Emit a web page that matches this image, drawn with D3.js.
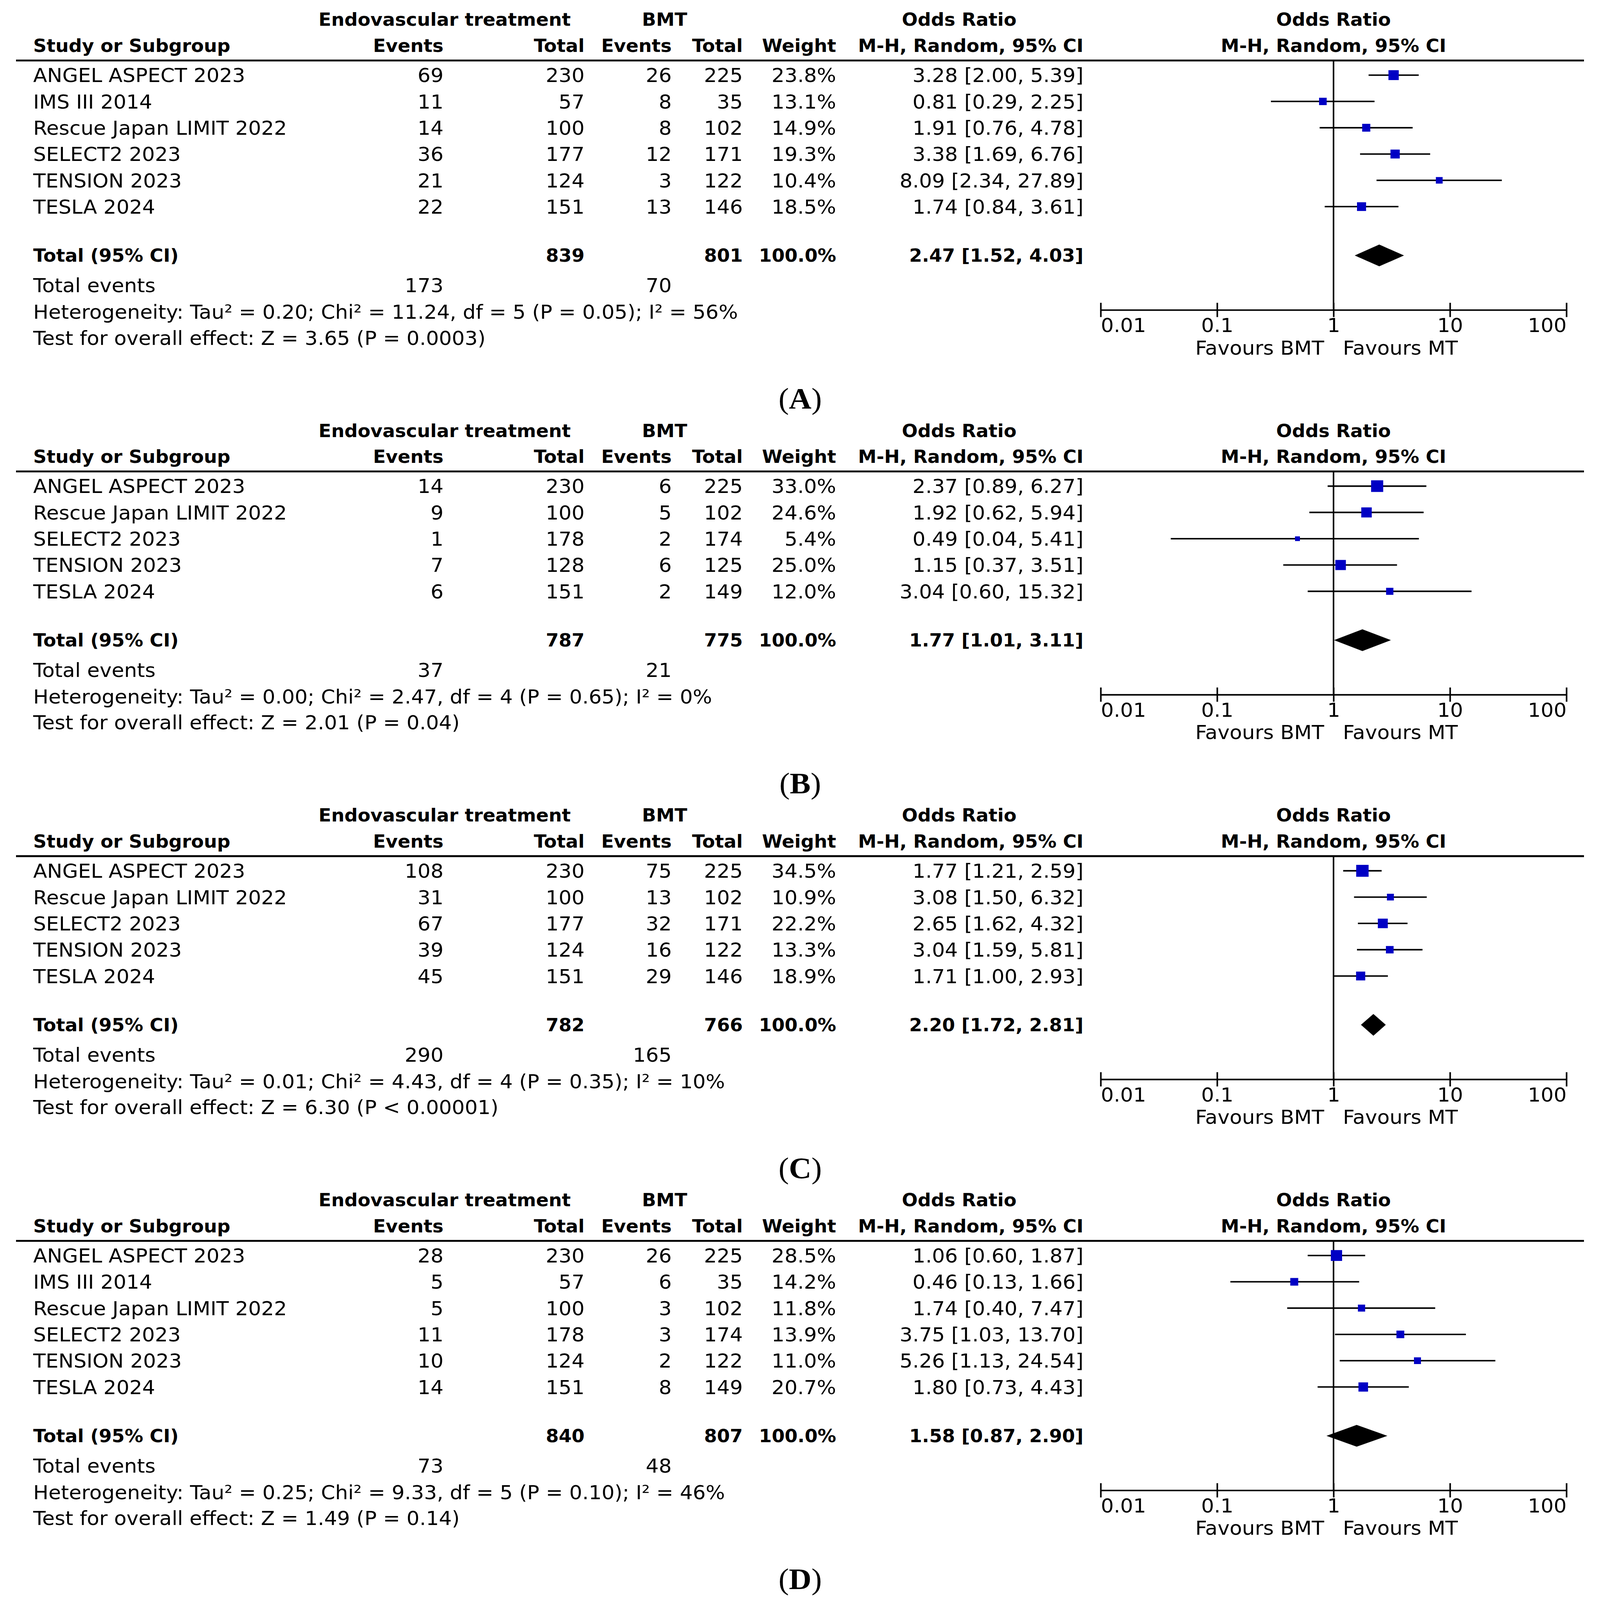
<!DOCTYPE html>
<html>
<head>
<meta charset="utf-8">
<script src="https://cdn.jsdelivr.net/npm/d3@7"></script>
<style>
  html, body { margin: 0; padding: 0; background: #fff; overflow: hidden; }
  svg { display: block; }
  svg text { font-family: "DejaVu Sans", Verdana, sans-serif; fill: #000; }
</style>
</head>
<body>
<script>
// study rows: name, exp events, exp total, ctl events, ctl total, weight %, OR, lower, upper
const rowsA = [
  ["ANGEL ASPECT 2023", 69, 230, 26, 225, 23.8, 3.28, 2.00, 5.39],
  ["IMS III 2014", 11, 57, 8, 35, 13.1, 0.81, 0.29, 2.25],
  ["Rescue Japan LIMIT 2022", 14, 100, 8, 102, 14.9, 1.91, 0.76, 4.78],
  ["SELECT2 2023", 36, 177, 12, 171, 19.3, 3.38, 1.69, 6.76],
  ["TENSION 2023", 21, 124, 3, 122, 10.4, 8.09, 2.34, 27.89],
  ["TESLA 2024", 22, 151, 13, 146, 18.5, 1.74, 0.84, 3.61]
];
const rowsB = [
  ["ANGEL ASPECT 2023", 14, 230, 6, 225, 33.0, 2.37, 0.89, 6.27],
  ["Rescue Japan LIMIT 2022", 9, 100, 5, 102, 24.6, 1.92, 0.62, 5.94],
  ["SELECT2 2023", 1, 178, 2, 174, 5.4, 0.49, 0.04, 5.41],
  ["TENSION 2023", 7, 128, 6, 125, 25.0, 1.15, 0.37, 3.51],
  ["TESLA 2024", 6, 151, 2, 149, 12.0, 3.04, 0.60, 15.32]
];
const rowsC = [
  ["ANGEL ASPECT 2023", 108, 230, 75, 225, 34.5, 1.77, 1.21, 2.59],
  ["Rescue Japan LIMIT 2022", 31, 100, 13, 102, 10.9, 3.08, 1.50, 6.32],
  ["SELECT2 2023", 67, 177, 32, 171, 22.2, 2.65, 1.62, 4.32],
  ["TENSION 2023", 39, 124, 16, 122, 13.3, 3.04, 1.59, 5.81],
  ["TESLA 2024", 45, 151, 29, 146, 18.9, 1.71, 1.00, 2.93]
];
const rowsD = [
  ["ANGEL ASPECT 2023", 28, 230, 26, 225, 28.5, 1.06, 0.60, 1.87],
  ["IMS III 2014", 5, 57, 6, 35, 14.2, 0.46, 0.13, 1.66],
  ["Rescue Japan LIMIT 2022", 5, 100, 3, 102, 11.8, 1.74, 0.40, 7.47],
  ["SELECT2 2023", 11, 178, 3, 174, 13.9, 3.75, 1.03, 13.70],
  ["TENSION 2023", 10, 124, 2, 122, 11.0, 5.26, 1.13, 24.54],
  ["TESLA 2024", 14, 151, 8, 149, 20.7, 1.80, 0.73, 4.43]
];

// pooled: exp total, ctl total, OR, lower, upper, exp events, ctl events
const totalA = [839, 801, 2.47, 1.52, 4.03, 173, 70];
const totalB = [787, 775, 1.77, 1.01, 3.11, 37, 21];
const totalC = [782, 766, 2.20, 1.72, 2.81, 290, 165];
const totalD = [840, 807, 1.58, 0.87, 2.90, 73, 48];

const hetText = [
  "Heterogeneity: Tau² = 0.20; Chi² = 11.24, df = 5 (P = 0.05); I² = 56%",
  "Heterogeneity: Tau² = 0.00; Chi² = 2.47, df = 4 (P = 0.65); I² = 0%",
  "Heterogeneity: Tau² = 0.01; Chi² = 4.43, df = 4 (P = 0.35); I² = 10%",
  "Heterogeneity: Tau² = 0.25; Chi² = 9.33, df = 5 (P = 0.10); I² = 46%"
];
const testText = [
  "Test for overall effect: Z = 3.65 (P = 0.0003)",
  "Test for overall effect: Z = 2.01 (P = 0.04)",
  "Test for overall effect: Z = 6.30 (P < 0.00001)",
  "Test for overall effect: Z = 1.49 (P = 0.14)"
];
const panelLabels = ["A", "B", "C", "D"];
const tickValues = [0.01, 0.1, 1, 10, 100];
const tickLabels = ["0.01", "0.1", "1", "10", "100"];

const W = 4095, H = 4259;
const FS = 52, FSB = 47.5;
const pitch = 70;
const col = { study: 85, expEv: 1135, expTot: 1496, ctlEv: 1719, ctlTot: 1901, weight: 2140, or: 2773 };
const blue = "#0000c4";

// fit the whole page into whatever viewport we get
const svg = d3.select("body").append("svg")
  .attr("width", "100vw").attr("height", "100vh")
  .attr("viewBox", [0, 0, W, H])
  .attr("preserveAspectRatio", "none");

const x = d3.scaleLog().domain([0.01, 100]).range([2817, 4009]);
const f2 = d3.format(".2f");

function txt(g, xx, yy, s, anchor, bold) {
  return g.append("text")
    .attr("x", xx).attr("y", yy)
    .attr("dy", "0.36em")
    .attr("text-anchor", anchor || "start")
    .attr("font-size", bold ? FSB : FS)
    .attr("font-weight", bold ? "bold" : "normal")
    .text(s);
}

function drawPanel(y0, rows, total, idx) {
  const g = svg.append("g");
  const sepY = y0 + 109;
  const rowY = i => y0 + 148 + pitch * i;
  const totY = rowY(rows.length - 1) + 130;
  const evY = totY + 79;
  const hetY = evY + 71;
  const testY = hetY + 69;
  const axisY = hetY - 5;

  // headers
  txt(g, 1138, y0, "Endovascular treatment", "middle", true);
  txt(g, 1701, y0, "BMT", "middle", true);
  txt(g, 2455, y0, "Odds Ratio", "middle", true);
  txt(g, x(1), y0, "Odds Ratio", "middle", true);
  const h2 = y0 + 69;
  txt(g, col.study, h2, "Study or Subgroup", "start", true);
  txt(g, col.expEv, h2, "Events", "end", true);
  txt(g, col.expTot, h2, "Total", "end", true);
  txt(g, col.ctlEv, h2, "Events", "end", true);
  txt(g, col.ctlTot, h2, "Total", "end", true);
  txt(g, col.weight, h2, "Weight", "end", true);
  txt(g, col.or, h2, "M-H, Random, 95% CI", "end", true);
  txt(g, x(1), h2, "M-H, Random, 95% CI", "middle", true);

  g.append("line").attr("x1", 41).attr("x2", 4054)
    .attr("y1", sepY).attr("y2", sepY)
    .attr("stroke", "#000").attr("stroke-width", 5);

  // study rows
  rows.forEach((r, i) => {
    const yy = rowY(i);
    txt(g, col.study, yy, r[0]);
    txt(g, col.expEv, yy, r[1], "end");
    txt(g, col.expTot, yy, r[2], "end");
    txt(g, col.ctlEv, yy, r[3], "end");
    txt(g, col.ctlTot, yy, r[4], "end");
    txt(g, col.weight, yy, r[5].toFixed(1) + "%", "end");
    txt(g, col.or, yy, `${f2(r[6])} [${f2(r[7])}, ${f2(r[8])}]`, "end");
  });

  // line of no effect
  g.append("line").attr("x1", x(1)).attr("x2", x(1))
    .attr("y1", sepY).attr("y2", axisY)
    .attr("stroke", "#000").attr("stroke-width", 4);

  // CI lines + boxes
  g.selectAll(".ci").data(rows).join("line")
    .attr("x1", d => x(d[7])).attr("x2", d => x(d[8]))
    .attr("y1", (d, i) => rowY(i)).attr("y2", (d, i) => rowY(i))
    .attr("stroke", "#000").attr("stroke-width", 4);
  g.selectAll(".box").data(rows).join("rect")
    .attr("width", d => 5.4 * Math.sqrt(d[5]))
    .attr("height", d => 5.4 * Math.sqrt(d[5]))
    .attr("x", d => x(d[6]) - 2.7 * Math.sqrt(d[5]))
    .attr("y", (d, i) => rowY(i) - 2.7 * Math.sqrt(d[5]))
    .attr("fill", blue);

  // pooled row
  txt(g, col.study, totY, "Total (95% CI)", "start", true);
  txt(g, col.expTot, totY, total[0], "end", true);
  txt(g, col.ctlTot, totY, total[1], "end", true);
  txt(g, col.weight, totY, "100.0%", "end", true);
  txt(g, col.or, totY, `${f2(total[2])} [${f2(total[3])}, ${f2(total[4])}]`, "end", true);
  const dh = 29;
  g.append("path")
    .attr("d", `M${x(total[3])},${totY} L${x(total[2])},${totY - dh} L${x(total[4])},${totY} L${x(total[2])},${totY + dh} Z`)
    .attr("fill", "#000");

  txt(g, col.study, evY, "Total events");
  txt(g, col.expEv, evY, total[5], "end");
  txt(g, col.ctlEv, evY, total[6], "end");
  txt(g, col.study, hetY, hetText[idx]);
  txt(g, col.study, testY, testText[idx]);

  // axis
  const ax = g.append("g")
    .attr("transform", `translate(0,${axisY})`)
    .call(d3.axisBottom(x).tickValues(tickValues)
      .tickFormat((d, i) => tickLabels[i]).tickSize(19).tickSizeOuter(0));
  ax.select(".domain").attr("stroke-width", 4);
  ax.selectAll(".tick line").attr("y1", -19).attr("y2", 19).attr("stroke-width", 4);
  ax.selectAll(".tick text")
    .attr("y", 40).attr("dy", "0.36em")
    .attr("font-size", FS)
    .attr("font-family", "DejaVu Sans")
    .attr("text-anchor", (d, i) => i === 0 ? "start" : (i === tickValues.length - 1 ? "end" : "middle"));

  txt(g, x(1) - 24, axisY + 100, "Favours BMT", "end");
  txt(g, x(1) + 24, axisY + 100, "Favours MT", "start");

  // panel label
  const labY = testY + 165;
  const lab = g.append("text")
    .attr("x", 2048).attr("y", labY).attr("dy", "0.3em")
    .attr("text-anchor", "middle")
    .attr("font-size", 80)
    .style("font-family", "'Liberation Serif', 'Times New Roman', serif");
  lab.append("tspan").text("(");
  lab.append("tspan").attr("font-weight", "bold").text(panelLabels[idx]);
  lab.append("tspan").text(")");

  return labY + 82;
}

let yNext = 52;
[rowsA, rowsB, rowsC, rowsD].forEach((rows, i) => {
  yNext = drawPanel(yNext, rows, [totalA, totalB, totalC, totalD][i], i);
});
</script>
</body>
</html>
